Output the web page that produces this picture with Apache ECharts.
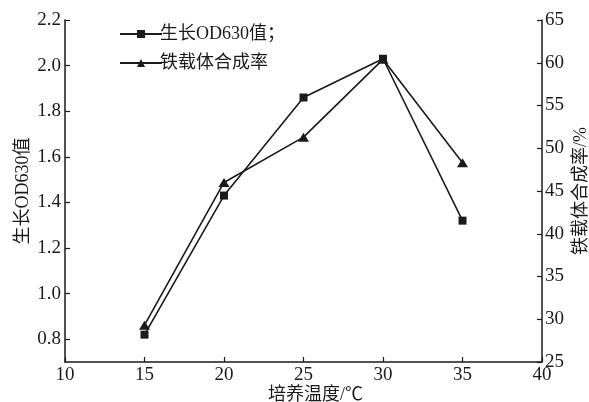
<!DOCTYPE html>
<html>
<head>
<meta charset="utf-8">
<script src="https://cdn.jsdelivr.net/npm/echarts@6/dist/echarts.min.js"></script>
<style>
  html, body { margin: 0; padding: 0; background: #fff; }
  #chart { width: 589px; height: 402px; }
</style>
</head>
<body>
<div id="chart"></div>
<script>
// Culture temperature (°C)
const temperatures = [15, 20, 25, 30, 35];
// Growth OD630 (left axis)
const odValues = [0.82, 1.43, 1.86, 2.03, 1.32];
// Siderophore synthesis rate, % (right axis)
const rateValues = [29.3, 46.0, 51.3, 60.4, 48.3];
// Left axis tick labels
const odTicks = [0.8, 1.0, 1.2, 1.4, 1.6, 1.8, 2.0, 2.2];

const FONT = '"Liberation Serif", "Times New Roman", "Noto Sans CJK SC", serif';
const INK = '#1a1a1a';

const chart = echarts.init(document.getElementById('chart'), null, { renderer: 'canvas' });

const axisCommon = {
  nameMoveOverlap: false,
  axisLine: { show: true, lineStyle: { color: INK, width: 1.5 } },
  axisTick: { show: true, inside: true, length: 5, lineStyle: { color: INK, width: 1.2 } },
  splitLine: { show: false },
  nameTextStyle: { fontFamily: FONT, fontSize: 18, color: INK },
  axisLabel: { fontFamily: FONT, fontSize: 19, color: INK }
};

chart.setOption({
  animation: false,
  backgroundColor: '#fff',
  grid: { left: 65, right: 47, top: 20, bottom: 40, containLabel: false, outerBoundsMode: 'none' },
  legend: {
    orient: 'vertical',
    left: 114,
    top: 20,
    itemWidth: 42,
    itemHeight: 10,
    itemGap: 11,
    textStyle: { fontFamily: FONT, fontSize: 18, color: INK, padding: [0, 0, 0, -7] },
    data: ['生长OD630值；', '铁载体合成率']
  },
  xAxis: Object.assign({}, axisCommon, {
    type: 'value',
    min: 10, max: 40, interval: 5,
    name: '培养温度/℃',
    nameLocation: 'middle',
    nameGap: 24,
    nameTextStyle: Object.assign({}, axisCommon.nameTextStyle, { padding: [0, 0, 0, 24] }),
    axisLabel: Object.assign({}, axisCommon.axisLabel, { margin: 4 })
  }),
  yAxis: [
    Object.assign({}, axisCommon, {
      type: 'value',
      min: 0.7, max: 2.2,
      position: 'left',
      name: '生长OD630值',
      nameLocation: 'middle',
      nameGap: 33,
      nameRotate: 90,
      axisTick: Object.assign({}, axisCommon.axisTick, { customValues: odTicks }),
      axisLabel: Object.assign({}, axisCommon.axisLabel, {
        margin: 4,
        customValues: odTicks,
        formatter: v => v.toFixed(1)
      })
    }),
    Object.assign({}, axisCommon, {
      type: 'value',
      min: 25, max: 65, interval: 5,
      position: 'right',
      name: '铁载体合成率/%',
      nameLocation: 'middle',
      nameGap: 30,
      nameRotate: 90,
      axisLabel: Object.assign({}, axisCommon.axisLabel, { margin: 3 })
    })
  ],
  series: [
    {
      name: '生长OD630值；',
      type: 'line',
      yAxisIndex: 0,
      data: temperatures.map((t, i) => [t, odValues[i]]),
      symbol: 'rect',
      symbolSize: 8,
      lineStyle: { color: INK, width: 1.6 },
      itemStyle: { color: INK },
      z: 3
    },
    {
      name: '铁载体合成率',
      type: 'line',
      yAxisIndex: 1,
      data: temperatures.map((t, i) => [t, rateValues[i]]),
      symbol: 'triangle',
      symbolSize: [11, 9],
      lineStyle: { color: INK, width: 1.6 },
      itemStyle: { color: INK },
      z: 2
    }
  ]
});
</script>
</body>
</html>
